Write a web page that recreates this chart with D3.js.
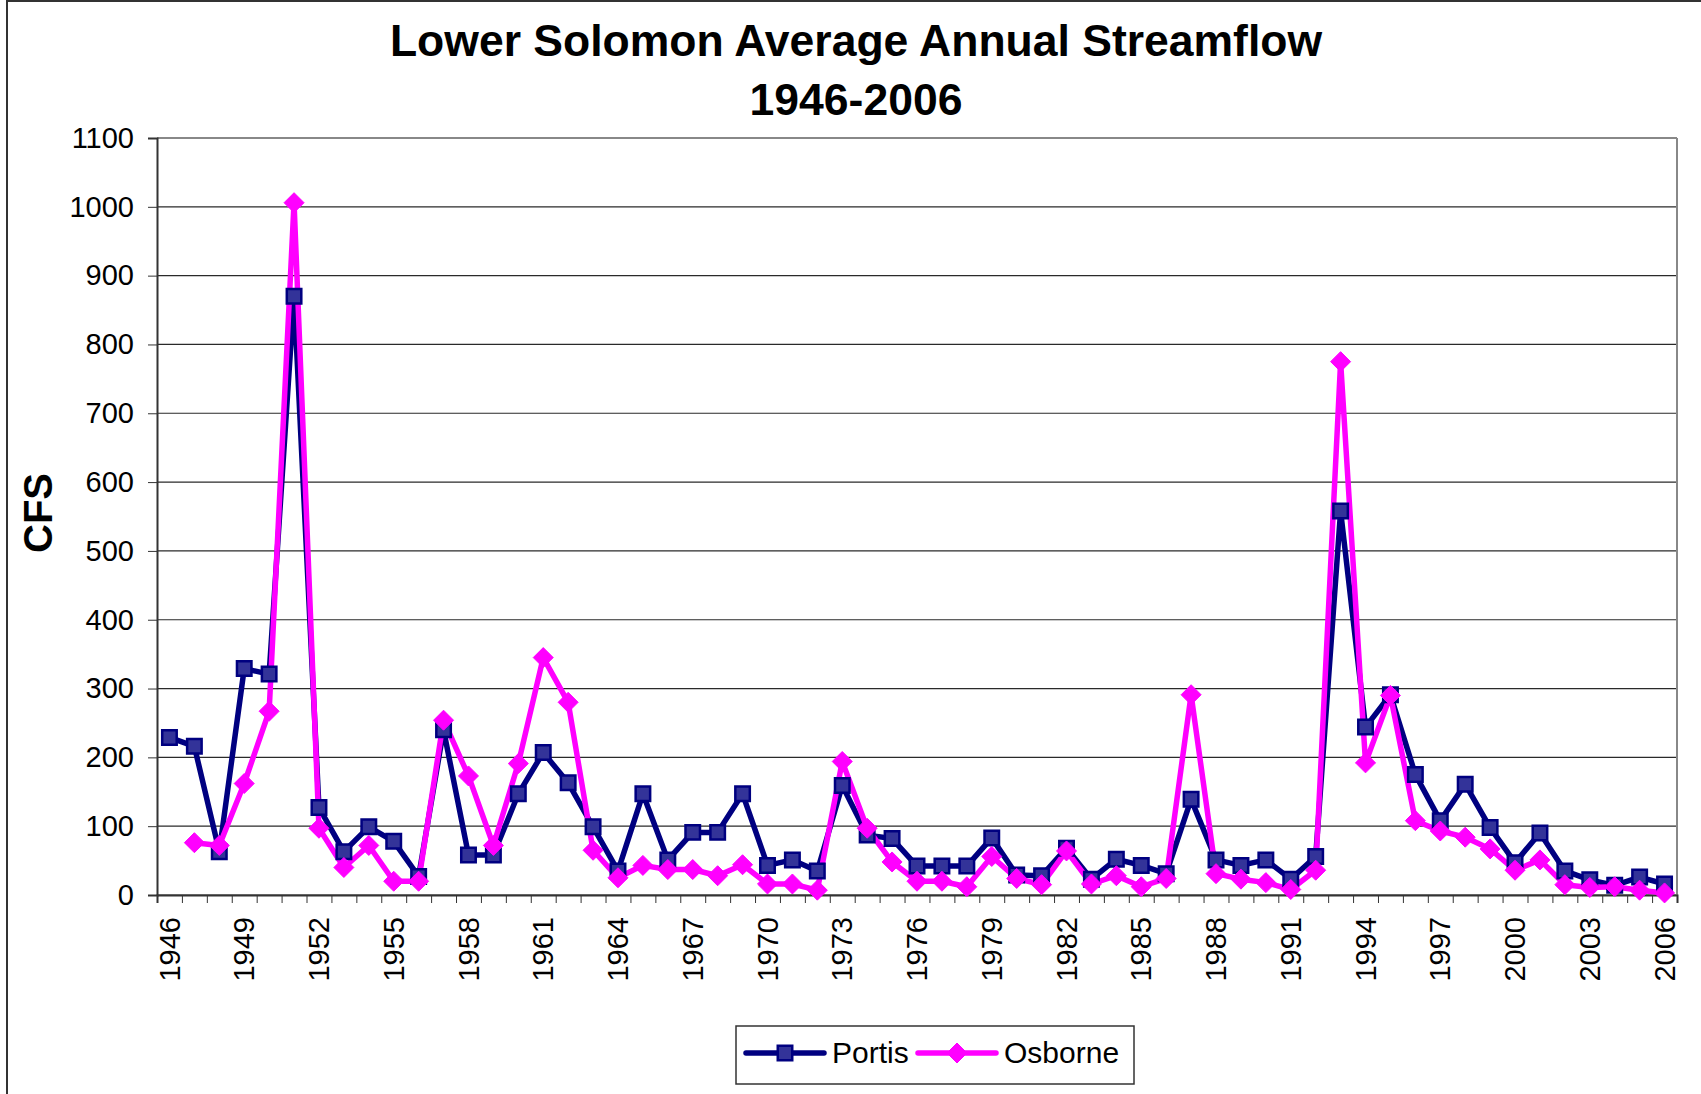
<!DOCTYPE html>
<html>
<head>
<meta charset="utf-8">
<script src="https://cdn.jsdelivr.net/npm/d3@7"></script>
<style>
  body { margin: 0; background: #fff; }
  svg text { font-family: "Liberation Sans", Arial, sans-serif; }
</style>
</head>
<body>
<svg id="chart"></svg>
<script>
var years = d3.range(1946, 2007);

var portis = [229, 216, 63, 329, 321, 870, 127, 63, 99, 78,
              27, 240, 58, 58, 147, 207, 163, 99, 35, 147,
              51, 91, 91, 147, 43, 51, 35, 159, 87, 82,
              42, 42, 42, 83, 29, 28, 68, 23, 52, 43,
              31, 139, 51, 43, 51, 23, 56, 558, 244, 291,
              175, 108, 161, 98, 47, 90, 35, 22, 14, 26,
              16];

var osborne = [null, 76, 72, 162, 267, 1006, 97, 40, 72, 20,
               20, 254, 173, 72, 191, 345, 280, 65, 25, 43,
               37, 37, 28, 44, 16, 16, 7, 194, 97, 48,
               20, 20, 12, 56, 24, 15, 64, 16, 28, 12,
               24, 291, 31, 23, 18, 8, 36, 775, 192, 290,
               108, 93, 84, 67, 36, 51, 15, 11, 12, 7,
               3];

var yticks = d3.range(0, 1101, 100);
var xlabels = years.filter(function(y) { return (y - 1946) % 3 === 0; });

var series = [
  {name: 'Portis', values: portis, color: '#000080', fill: '#333399', marker: 'square'},
  {name: 'Osborne', values: osborne, color: '#FF00FF', fill: '#FF00FF', marker: 'diamond'}
];

var width = 1701;
var height = 1094;
var margin = {top: 138, right: 24, bottom: 199, left: 157};

var svg = d3.select('#chart')
    .attr('width', width)
    .attr('height', height);

// outer chart frame (runs off the right and bottom edges)
svg.append('rect')
    .attr('x', 7).attr('y', 1)
    .attr('width', 2000).attr('height', 2000)
    .attr('fill', 'none')
    .attr('stroke', '#333')
    .attr('stroke-width', 2);

var inner_width = width - margin.left - margin.right;
var inner_height = height - margin.top - margin.bottom;

var chart = svg.append('g')
    .attr('transform', `translate(${margin.left}, ${margin.top})`);

var xscale = d3.scaleBand()
    .domain(years)
    .range([0, inner_width]);

var xedge = d3.scaleLinear()
    .domain([0, years.length])
    .range([0, inner_width]);

var yscale = d3.scaleLinear()
    .domain([0, 1100])
    .range([inner_height, 0]);

// gridlines
chart.append('g')
    .selectAll('line')
    .data(yticks)
    .join('line')
    .attr('x1', 0).attr('x2', inner_width)
    .attr('y1', d => yscale(d)).attr('y2', d => yscale(d))
    .attr('stroke', d => d === 1100 ? '#888' : '#2a2a2a')
    .attr('stroke-width', d => d === 1100 ? 2 : 1.2);

// right border of plot area
chart.append('line')
    .attr('x1', inner_width).attr('x2', inner_width)
    .attr('y1', 0).attr('y2', inner_height)
    .attr('stroke', '#888')
    .attr('stroke-width', 2);

// y axis
var yaxis = d3.axisLeft(yscale)
    .tickValues(yticks)
    .tickFormat(d3.format('d'))
    .tickSize(9)
    .tickPadding(14);

var yaxis_group = chart.append('g').call(yaxis);
yaxis_group.select('.domain').attr('stroke', '#333').attr('stroke-width', 2);
yaxis_group.selectAll('.tick line').attr('stroke', '#333');
yaxis_group.selectAll('text')
    .attr('font-size', 29)
    .attr('fill', '#000')
    .style('font-family', '"Liberation Sans", Arial, sans-serif');

// x axis: ticks between categories
var xaxis = d3.axisBottom(xedge)
    .tickValues(d3.range(0, years.length + 1))
    .tickSize(8)
    .tickFormat('');

var xaxis_group = chart.append('g')
    .attr('transform', `translate(0, ${inner_height})`)
    .call(xaxis);
xaxis_group.select('.domain').attr('stroke', '#333').attr('stroke-width', 2);
xaxis_group.selectAll('.tick line').attr('stroke', '#333');

chart.append('g')
    .selectAll('text')
    .data(xlabels)
    .join('text')
    .attr('transform', d => `translate(${xscale(d) + xscale.bandwidth() / 2}, ${inner_height + 22}) rotate(-90)`)
    .attr('dy', '0.35em')
    .attr('text-anchor', 'end')
    .attr('font-size', 29)
    .text(d => d);

// lines
var line = d3.line()
    .defined(d => d.v !== null)
    .x(d => xscale(d.year) + xscale.bandwidth() / 2)
    .y(d => yscale(d.v));

series.forEach(function(s) {
  var pts = years.map((y, i) => ({year: y, v: s.values[i]}));
  chart.append('path')
      .attr('d', line(pts))
      .attr('fill', 'none')
      .attr('stroke', s.color)
      .attr('stroke-width', 5.5)
      .attr('stroke-linejoin', 'round');
});

var square = d3.symbol().type(d3.symbolSquare).size(210);
var diamond = 'M0,-10L10,0L0,10L-10,0Z';

series.forEach(function(s) {
  var pts = years.map((y, i) => ({year: y, v: s.values[i]})).filter(d => d.v !== null);
  chart.append('g')
      .selectAll('path')
      .data(pts)
      .join('path')
      .attr('transform', d => `translate(${xscale(d.year) + xscale.bandwidth() / 2}, ${yscale(d.v)})`)
      .attr('d', s.marker === 'square' ? square() : diamond)
      .attr('fill', s.fill)
      .attr('stroke', s.color)
      .attr('stroke-width', s.marker === 'square' ? 2.5 : 1);
});

// title
svg.append('text')
    .attr('x', 856).attr('y', 56)
    .attr('text-anchor', 'middle')
    .attr('font-size', 44.5)
    .attr('font-weight', 'bold')
    .text('Lower Solomon Average Annual Streamflow');

svg.append('text')
    .attr('x', 856).attr('y', 115)
    .attr('text-anchor', 'middle')
    .attr('font-size', 44.5)
    .attr('font-weight', 'bold')
    .text('1946-2006');

// y axis title
svg.append('text')
    .attr('transform', 'translate(52, 513) rotate(-90)')
    .attr('text-anchor', 'middle')
    .attr('font-size', 40)
    .attr('font-weight', 'bold')
    .text('CFS');

// legend
var legend = svg.append('g');
legend.append('rect')
    .attr('x', 736).attr('y', 1026)
    .attr('width', 398).attr('height', 58)
    .attr('fill', '#fff')
    .attr('stroke', '#333')
    .attr('stroke-width', 1.5);

var legend_x = [746, 918];
series.forEach(function(s, i) {
  var lx = legend_x[i];
  legend.append('line')
      .attr('x1', lx).attr('x2', lx + 78)
      .attr('y1', 1053).attr('y2', 1053)
      .attr('stroke', s.color)
      .attr('stroke-width', 5.5)
      .attr('stroke-linecap', 'round');
  legend.append('path')
      .attr('transform', `translate(${lx + 39}, 1053)`)
      .attr('d', s.marker === 'square' ? square() : diamond)
      .attr('fill', s.fill)
      .attr('stroke', s.color)
      .attr('stroke-width', s.marker === 'square' ? 2.5 : 1);
  legend.append('text')
      .attr('x', lx + 86).attr('y', 1063)
      .attr('font-size', 30)
      .text(s.name);
});
</script>
</body>
</html>
